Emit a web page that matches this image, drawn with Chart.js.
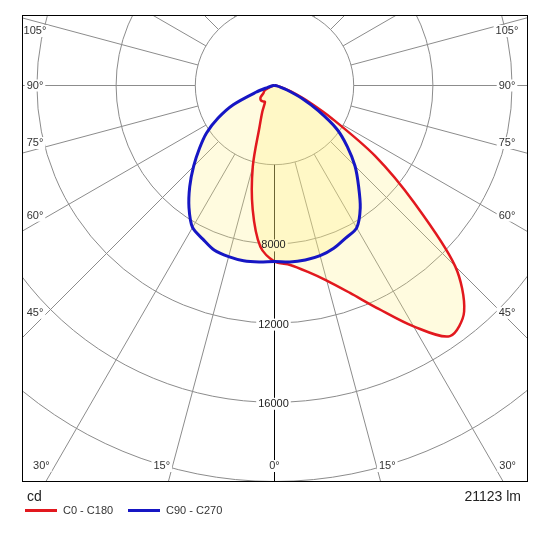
<!DOCTYPE html>
<html>
<head>
<meta charset="utf-8">
<script src="https://cdn.jsdelivr.net/npm/chart.js@4.4.1/dist/chart.umd.min.js"></script>
<style>
  html, body { margin: 0; padding: 0; background: #fff; }
</style>
</head>
<body>
<canvas id="ldc" width="541" height="536"></canvas>
<script>
// gamma angles in degrees from nadir, shared by every half plane
const gammaAngles = [0, 5, 10, 15, 20, 25, 30, 35, 40, 45, 50, 55, 60, 65, 70, 75, 80, 85, 90];

// luminous intensity in cd
const c0Values   = [8890, 9100, 9550, 10200, 11150, 12450, 14050, 15450, 14900, 12900, 9200, 6200, 3400, 1800, 900, 400, 150, 50, 0];
const c180Values = [8890, 8180, 6350, 4240, 2200, 1450, 960, 985, 1015, 1000, 910, 690, 610, 530, 300, 150, 80, 40, 0];
const c90Values  = [8890, 8950, 8950, 8900, 8750, 8500, 8300, 7550, 6600, 5750, 4800, 3850, 2550, 1500, 700, 300, 120, 40, 0];
const c270Values = [8890, 8950, 8990, 8950, 8860, 8560, 8280, 7530, 6660, 5780, 4950, 4200, 3290, 2300, 1000, 350, 150, 50, 0];

const ringValues = [4000, 8000, 12000, 16000, 20000, 24000];
const tickValues = [8000, 12000, 16000];
const angleLabelValues = [-105, -90, -75, -60, -45, -30, -15, 0, 15, 30, 45, 60, 75, 90, 105];
const planeNames = ["C0 - C180", "C90 - C270"];
const unitLabel = "cd";
const fluxLabel = "21123 lm";

// layout of the diagram (pixels)
const frame = { left: 22, top: 15, right: 527, bottom: 482 };
const centre = { x: 274.5, y: 85.5 };
const pxPerCd = 79.2 / 4000;

const RED = "rgb(226, 24, 30)";
const BLUE = "rgb(22, 22, 196)";
const FILL = "rgba(255, 238, 120, 0.24)";
const FONT = '"Liberation Sans", Arial, sans-serif';

// polar (gamma, I) -> cartesian cd; side +1 right half, -1 left half
function toXY(values, side) {
  return gammaAngles.map((g, i) => {
    const a = g * Math.PI / 180;
    return { x: side * values[i] * Math.sin(a), y: -values[i] * Math.cos(a) };
  });
}

// closed curve: left half from 90 down to 0, then right half 0 -> 90
function curve(left, right) {
  return toXY(left, -1).reverse().concat(toXY(right, 1).slice(1));
}

function labelBox(ctx, text, px, py, withText) {
  const w = ctx.measureText(text).width;
  ctx.fillStyle = "#fff";
  ctx.fillRect(px - w / 2 - 2, py - 6, w + 4, 12);
  if (withText) {
    ctx.fillStyle = "#333";
    ctx.fillText(text, px, py);
  }
}

function tickPos(chart, v) {
  const { x, y } = chart.scales;
  const cx = x.getPixelForValue(0);
  return [cx - 1, y.getPixelForValue(0) + (x.getPixelForValue(v) - cx) + 1.5];
}

const polarGrid = {
  id: "polarGrid",
  beforeDraw(chart) {
    const { ctx, chartArea: ca, scales: { x, y } } = chart;
    const cx = x.getPixelForValue(0);
    const cy = y.getPixelForValue(0);
    const rad = (v) => x.getPixelForValue(v) - cx;

    ctx.save();
    ctx.fillStyle = "#fff";
    ctx.fillRect(0, 0, chart.width, chart.height);

    ctx.beginPath();
    ctx.rect(ca.left, ca.top, ca.right - ca.left, ca.bottom - ca.top);
    ctx.clip();

    // rings
    ctx.strokeStyle = "#8c8c8c";
    ctx.lineWidth = 1;
    ringValues.forEach((v) => {
      ctx.beginPath();
      ctx.arc(cx, cy, rad(v), 0, 2 * Math.PI);
      ctx.stroke();
    });

    // spokes every 15 deg, starting at the first ring
    const r0 = rad(ringValues[0]);
    for (let a = 15; a < 360; a += 15) {
      const t = a * Math.PI / 180;
      const dx = Math.sin(t), dy = Math.cos(t);
      ctx.beginPath();
      ctx.moveTo(cx + dx * r0, cy + dy * r0);
      ctx.lineTo(cx + dx * 1000, cy + dy * 1000);
      ctx.stroke();
    }

    // nadir axis
    ctx.strokeStyle = "#000";
    ctx.beginPath();
    ctx.moveTo(cx, cy + r0);
    ctx.lineTo(cx, ca.bottom);
    ctx.stroke();

    ctx.font = "11px " + FONT;
    ctx.textAlign = "center";
    ctx.textBaseline = "middle";

    // white gaps for the intensity ticks (text drawn over the curves later)
    tickValues.forEach((v) => {
      const [px, py] = tickPos(chart, v);
      labelBox(ctx, String(v), px, py, false);
    });

    // angle labels just inside the frame
    const L = ca.left + 13, R = ca.right - 20, B = ca.bottom - 16, T = ca.top + 16;
    const side = cx - L;
    angleLabelValues.forEach((a) => {
      const off = (a === 0 || Math.abs(a) === 90) ? 0 : Math.sign(a) * 1.5;
      const t = (a + off) * Math.PI / 180;
      const dx = Math.sin(t), dy = Math.cos(t);
      const sSide = Math.abs(dx) > 1e-9 ? side / Math.abs(dx) : Infinity;
      const sBottom = dy > 0 ? (B - cy) / dy : Infinity;
      let px, py;
      if (sSide <= sBottom) {
        px = dx < 0 ? L : R;
        py = cy + dy * sSide;
      } else {
        px = cx + dx * sBottom;
        py = B;
      }
      labelBox(ctx, Math.abs(a) + "\u00b0", px, Math.max(T, py), true);
    });

    ctx.restore();
  },
  afterDatasetsDraw(chart) {
    const { ctx } = chart;
    ctx.save();
    ctx.font = "11px " + FONT;
    ctx.textAlign = "center";
    ctx.textBaseline = "middle";
    ctx.fillStyle = "#222";
    tickValues.forEach((v) => {
      const [px, py] = tickPos(chart, v);
      ctx.fillText(String(v), px, py);
    });
    ctx.restore();
  },
  afterDraw(chart) {
    const { ctx, chartArea: ca } = chart;
    ctx.save();
    ctx.strokeStyle = "#000";
    ctx.lineWidth = 1;
    ctx.strokeRect(ca.left + 0.5, ca.top + 0.5, ca.right - ca.left, ca.bottom - ca.top - 1);

    ctx.fillStyle = "#222";
    ctx.textBaseline = "middle";
    ctx.font = "14px " + FONT;
    ctx.textAlign = "left";
    ctx.fillText(unitLabel, 27, 497);
    ctx.textAlign = "right";
    ctx.fillText(fluxLabel, 521, 497);

    // legend
    ctx.font = "11px " + FONT;
    ctx.textAlign = "left";
    const items = [[planeNames[0], RED, 25], [planeNames[1], BLUE, 128]];
    items.forEach(([name, col, x0]) => {
      ctx.strokeStyle = col;
      ctx.lineWidth = 3;
      ctx.beginPath();
      ctx.moveTo(x0, 510.5);
      ctx.lineTo(x0 + 32, 510.5);
      ctx.stroke();
      ctx.fillStyle = "#333";
      ctx.fillText(name, x0 + 38, 511);
    });
    ctx.restore();
  }
};

new Chart(document.getElementById("ldc"), {
  type: "scatter",
  data: {
    datasets: [
      {
        label: planeNames[1],
        data: curve(c270Values, c90Values),
        borderColor: BLUE,
        borderWidth: 3,
        backgroundColor: FILL,
        fill: "shape",
        showLine: true,
        pointRadius: 0,
        tension: 0.3,
        borderJoinStyle: "round",
      },
      {
        label: planeNames[0],
        data: curve(c180Values, c0Values),
        borderColor: RED,
        borderWidth: 2.5,
        backgroundColor: FILL,
        fill: "shape",
        showLine: true,
        pointRadius: 0,
        tension: 0.3,
        borderJoinStyle: "round",
      },
    ],
  },
  options: {
    responsive: false,
    animation: false,
    layout: {
      padding: { left: frame.left, top: frame.top, right: 541 - frame.right, bottom: 536 - frame.bottom },
    },
    scales: {
      x: {
        type: "linear",
        display: false,
        min: -(centre.x - frame.left) / pxPerCd,
        max: (frame.right - centre.x) / pxPerCd,
      },
      y: {
        type: "linear",
        display: false,
        min: -(frame.bottom - centre.y) / pxPerCd,
        max: (centre.y - frame.top) / pxPerCd,
      },
    },
    plugins: {
      legend: { display: false },
      tooltip: { enabled: false },
      filler: { drawTime: "beforeDatasetsDraw" },
    },
  },
  plugins: [polarGrid],
});
</script>
</body>
</html>
